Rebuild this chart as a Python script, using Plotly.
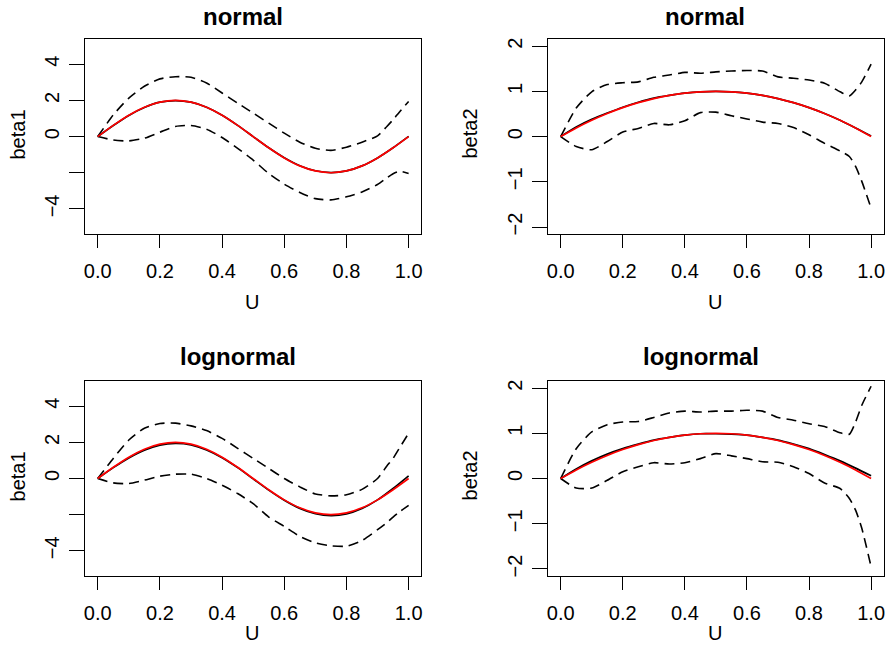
import plotly.graph_objects as go

# ---------------- data ----------------
u = [0.00, 0.05, 0.10, 0.15, 0.20, 0.25, 0.30, 0.35, 0.40, 0.45, 0.50,
     0.55, 0.60, 0.65, 0.70, 0.75, 0.80, 0.85, 0.90, 0.95, 1.00]
u_band = [0.00, 0.05, 0.10, 0.15, 0.20, 0.25, 0.30, 0.35, 0.40, 0.45, 0.50,
          0.55, 0.60, 0.65, 0.70, 0.75, 0.80, 0.85, 0.90, 0.93, 0.95, 0.97, 1.00]

beta1_true = [0.00, 0.62, 1.18, 1.62, 1.90, 2.00, 1.90, 1.62, 1.18, 0.62, 0.00,
              -0.62, -1.18, -1.62, -1.90, -2.00, -1.90, -1.62, -1.18, -0.62, 0.00]
beta2_true = [0.00, 0.19, 0.36, 0.51, 0.64, 0.75, 0.84, 0.91, 0.96, 0.99, 1.00,
              0.99, 0.96, 0.91, 0.84, 0.75, 0.64, 0.51, 0.36, 0.19, 0.00]

# normal, beta1
b1n_est = [0.00, 0.61, 1.17, 1.61, 1.90, 1.99, 1.90, 1.62, 1.18, 0.62, 0.00,
           -0.62, -1.17, -1.61, -1.89, -1.99, -1.90, -1.62, -1.18, -0.62, 0.01]
b1n_up = [0.00, 1.20, 2.13, 2.78, 3.19, 3.31, 3.28, 2.96, 2.41, 1.85, 1.30,
          0.74, 0.19, -0.31, -0.65, -0.76, -0.59, -0.31, 0.04, 0.56, 0.93, 1.35, 1.94]
b1n_lo = [0.00, -0.19, -0.24, -0.09, 0.24, 0.56, 0.61, 0.41, -0.05, -0.65, -1.30,
          -2.04, -2.63, -3.09, -3.43, -3.50, -3.33, -3.06, -2.65, -2.28, -2.05, -1.92, -2.04]

# normal, beta2
b2n_est = [0.00, 0.21, 0.38, 0.52, 0.65, 0.76, 0.85, 0.91, 0.96, 0.99, 1.00,
           0.99, 0.96, 0.91, 0.84, 0.75, 0.64, 0.51, 0.36, 0.19, 0.01]
b2n_up = [0.00, 0.63, 0.99, 1.15, 1.19, 1.21, 1.31, 1.36, 1.42, 1.40, 1.43,
          1.45, 1.46, 1.45, 1.32, 1.29, 1.25, 1.18, 0.99, 0.90, 1.03, 1.21, 1.60]
b2n_lo = [0.00, -0.22, -0.29, -0.11, 0.10, 0.18, 0.29, 0.26, 0.35, 0.53, 0.54,
          0.46, 0.39, 0.32, 0.29, 0.20, 0.04, -0.15, -0.32, -0.44, -0.66, -0.99, -1.58]

# lognormal, beta1
b1l_est = [0.00, 0.60, 1.14, 1.57, 1.85, 1.94, 1.86, 1.58, 1.15, 0.60, -0.02,
           -0.64, -1.20, -1.65, -1.94, -2.05, -1.96, -1.66, -1.18, -0.55, 0.15]
b1l_up = [0.00, 1.11, 2.13, 2.78, 3.04, 3.06, 2.91, 2.65, 2.22, 1.67, 1.11,
          0.56, 0.00, -0.46, -0.85, -0.96, -0.90, -0.60, 0.00, 0.69, 1.11, 1.67, 2.50]
b1l_lo = [0.00, -0.24, -0.28, -0.09, 0.13, 0.24, 0.24, 0.00, -0.37, -0.83, -1.39,
          -2.13, -2.65, -3.20, -3.56, -3.72, -3.74, -3.43, -2.83, -2.44, -2.13, -1.85, -1.48]

# lognormal, beta2
b2l_est = [0.00, 0.21, 0.39, 0.54, 0.66, 0.76, 0.85, 0.91, 0.96, 0.99, 0.99,
           0.98, 0.96, 0.91, 0.85, 0.76, 0.66, 0.53, 0.39, 0.23, 0.06]
b2l_up = [0.00, 0.66, 1.03, 1.19, 1.25, 1.26, 1.35, 1.45, 1.49, 1.47, 1.49,
          1.49, 1.51, 1.49, 1.35, 1.29, 1.21, 1.15, 1.01, 0.98, 1.25, 1.62, 2.04]
b2l_lo = [0.00, -0.21, -0.21, -0.04, 0.15, 0.26, 0.35, 0.32, 0.35, 0.44, 0.55,
          0.50, 0.44, 0.37, 0.36, 0.26, 0.11, -0.10, -0.22, -0.44, -0.70, -1.10, -1.95]

titles = ["normal", "normal", "lognormal", "lognormal"]
ylabels = ["beta1", "beta2", "beta1", "beta2"]
xlabel = "U"
x_ticks = [0.0, 0.2, 0.4, 0.6, 0.8, 1.0]
x_ticktext = ["0.0", "0.2", "0.4", "0.6", "0.8", "1.0"]
y1_ticks = [-4, -2, 0, 2, 4]
y1_ticktext = ["\u22124", "", "0", "2", "4"]
y2_ticks = [-2, -1, 0, 1, 2]
y2_ticktext = ["\u22122", "\u22121", "0", "1", "2"]

panels = [
    (b1n_est, b1n_up, b1n_lo, beta1_true, [-5.4, 5.4], y1_ticks, y1_ticktext),
    (b2n_est, b2n_up, b2n_lo, beta2_true, [-2.16, 2.16], y2_ticks, y2_ticktext),
    (b1l_est, b1l_up, b1l_lo, beta1_true, [-5.4, 5.4], y1_ticks, y1_ticktext),
    (b2l_est, b2l_up, b2l_lo, beta2_true, [-2.16, 2.16], y2_ticks, y2_ticktext),
]

# ---------------- layout geometry (pixels) ----------------
W, H = 893, 647
boxes = [(84.5, 421.0, 38.0, 234.0), (548.5, 884.5, 38.0, 234.0),
         (84.5, 421.0, 381.0, 577.0), (548.5, 884.5, 381.0, 577.0)]
title_pos = [(243, 16), (706, 16), (238, 357), (702, 357)]
xlab_pos = [(252, 302), (716, 302), (252, 634), (716, 634)]
ylab_pos = [(17, 134), (470, 133), (17, 477), (470, 476)]

FONT = "Liberation Sans, Arial, Helvetica, sans-serif"

fig = go.Figure()
layout = dict(width=W, height=H, margin=dict(l=0, r=0, t=0, b=0),
              plot_bgcolor="white", paper_bgcolor="white", showlegend=False,
              font=dict(family=FONT, size=20, color="black"))
annotations = []

for i, (est, up, lo, true, yr, ytv, ytt) in enumerate(panels):
    n = i + 1
    xa = "x" if n == 1 else f"x{n}"
    ya = "y" if n == 1 else f"y{n}"
    line_common = dict(shape="spline", smoothing=0.6)
    fig.add_trace(go.Scatter(x=u, y=est, xaxis=xa, yaxis=ya, mode="lines",
                             line=dict(color="black", width=1.7, **line_common),
                             hoverinfo="skip"))
    fig.add_trace(go.Scatter(x=u_band, y=up, xaxis=xa, yaxis=ya, mode="lines",
                             line=dict(color="black", width=1.6, dash="10px,6px", **line_common),
                             hoverinfo="skip"))
    fig.add_trace(go.Scatter(x=u_band, y=lo, xaxis=xa, yaxis=ya, mode="lines",
                             line=dict(color="black", width=1.6, dash="10px,6px", **line_common),
                             hoverinfo="skip"))
    fig.add_trace(go.Scatter(x=u, y=true, xaxis=xa, yaxis=ya, mode="lines",
                             line=dict(color="#ff0000", width=1.7, **line_common),
                             hoverinfo="skip"))

    x0, x1, top, bot = boxes[i]
    xkey = "xaxis" if n == 1 else f"xaxis{n}"
    ykey = "yaxis" if n == 1 else f"yaxis{n}"
    layout[xkey] = dict(domain=[x0 / W, x1 / W], anchor=ya, range=[-0.04, 1.04],
                        tickvals=x_ticks, ticktext=x_ticktext, ticks="outside",
                        ticklen=12.5, tickwidth=1.3, tickcolor="black",
                        showline=True, linecolor="black", linewidth=1.3, mirror=True,
                        showgrid=False, zeroline=False, ticklabelstandoff=6,
                        tickfont=dict(family=FONT, size=20, color="black"))
    layout[ykey] = dict(domain=[1 - bot / H, 1 - top / H], anchor=xa, range=yr,
                        tickvals=ytv, ticktext=ytt, ticks="outside", tickangle=-90,
                        ticklen=15, tickwidth=1.3, tickcolor="black",
                        showline=True, linecolor="black", linewidth=1.3, mirror=True,
                        showgrid=False, zeroline=False, ticklabelstandoff=2,
                        tickfont=dict(family=FONT, size=20, color="black"))

    tx, ty = title_pos[i]
    annotations.append(dict(text=f"<b>{titles[i]}</b>", x=tx / W, y=1 - ty / H,
                            xref="paper", yref="paper", showarrow=False,
                            xanchor="center", yanchor="middle",
                            font=dict(family=FONT, size=24, color="black")))
    lx, ly = xlab_pos[i]
    annotations.append(dict(text=xlabel, x=lx / W, y=1 - ly / H,
                            xref="paper", yref="paper", showarrow=False,
                            xanchor="center", yanchor="middle",
                            font=dict(family=FONT, size=20, color="black")))
    yx, yy = ylab_pos[i]
    annotations.append(dict(text=ylabels[i], x=yx / W, y=1 - yy / H,
                            xref="paper", yref="paper", showarrow=False, textangle=-90,
                            xanchor="center", yanchor="middle",
                            font=dict(family=FONT, size=20, color="black")))

layout["annotations"] = annotations
fig.update_layout(**layout)
fig.write_html("out.html", config={"displayModeBar": False},
               post_script="document.body.style.margin='0';document.body.style.overflow='hidden';")
